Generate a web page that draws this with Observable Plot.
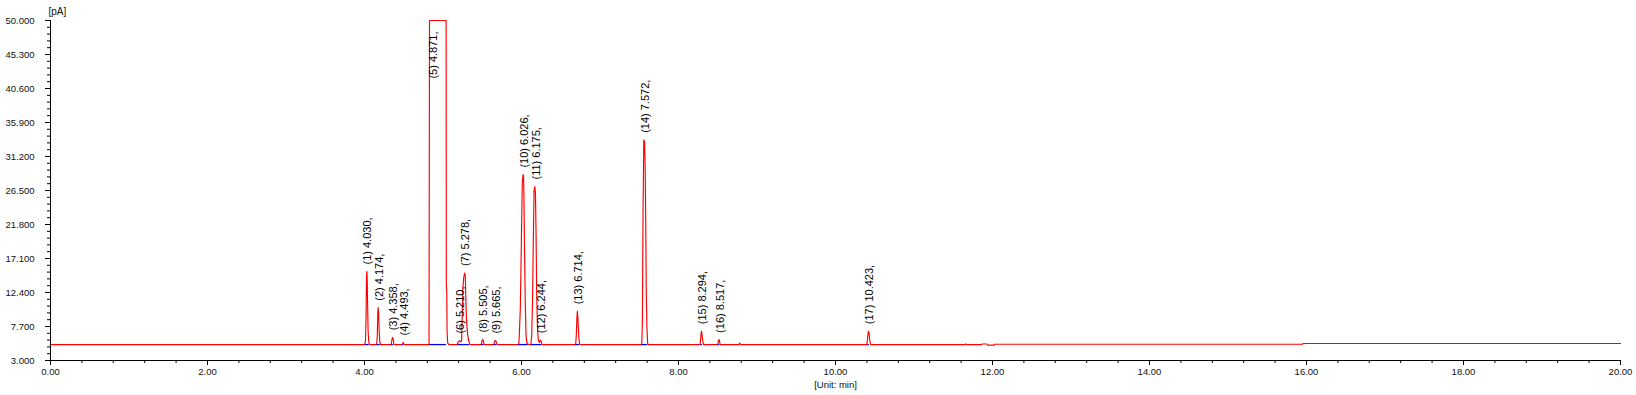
<!DOCTYPE html>
<html>
<head>
<meta charset="utf-8">
<script src="https://cdn.jsdelivr.net/npm/d3@7"></script>
<script src="https://cdn.jsdelivr.net/npm/@observablehq/plot@0.6"></script>
<style>
  html, body { margin: 0; padding: 0; background: #fff; overflow: hidden; }
  #chart svg { display: block; }
</style>
</head>
<body>
<div id="chart"></div>
<script>
// ---- Data ----
const traceTime = [
  0, 4.000,
  4.012, 4.020, 4.026, 4.030, 4.035, 4.040, 4.046, 4.055, 4.065,
  4.155, 4.163, 4.169, 4.174, 4.180, 4.186, 4.195, 4.205,
  4.340, 4.350, 4.358, 4.366, 4.376,
  4.482, 4.493, 4.504,
  4.822, 4.828, 5.040, 5.042, 5.048, 5.052, 5.060, 5.075,
  5.180, 5.195, 5.210, 5.225, 5.237,
  5.243, 5.252, 5.264, 5.272, 5.278, 5.284, 5.290, 5.298, 5.310, 5.325, 5.345,
  5.488, 5.498, 5.505, 5.513, 5.524,
  5.648, 5.658, 5.668, 5.678, 5.690,
  5.965, 5.972, 5.985, 5.998, 6.010, 6.020, 6.026, 6.032, 6.038, 6.048, 6.058, 6.070, 6.095,
  6.120, 6.130, 6.140, 6.150, 6.160, 6.170, 6.178, 6.186, 6.194, 6.204, 6.215, 6.228, 6.240, 6.250, 6.262,
  6.690, 6.698, 6.706, 6.712, 6.718, 6.724, 6.732, 6.742,
  7.532, 7.540, 7.548, 7.558, 7.568, 7.575, 7.582, 7.590, 7.598, 7.608,
  8.275, 8.285, 8.292, 8.300, 8.308, 8.318,
  8.500, 8.510, 8.520, 8.530,
  8.770, 8.780, 8.790,
  10.400, 10.412, 10.420, 10.428, 10.436, 10.448,
  11.650, 11.660, 11.670,
  11.860, 11.865, 11.930, 11.935, 12.020, 12.025,
  15.950, 15.955, 20.000
];
const traceSignal = [
  5.2, 5.2,
  5.6, 9.0, 14.8, 15.3, 14.0, 10.5, 7.0, 5.5, 5.2,
  5.2, 6.5, 9.6, 10.3, 9.5, 7.2, 5.6, 5.2,
  5.2, 5.9, 6.2, 5.9, 5.2,
  5.2, 5.5, 5.2,
  5.2, 50.0, 50.0, 13.6, 12.5, 7.0, 5.4, 5.2,
  5.2, 5.6, 5.75, 5.6, 5.7,
  8.5, 12.8, 14.5, 14.9, 15.1, 14.6, 12.0, 9.0, 7.0, 5.8, 5.2,
  5.2, 5.8, 5.9, 5.8, 5.2,
  5.2, 5.7, 5.75, 5.6, 5.2,
  5.2, 6.5, 10.2, 19.2, 27.5, 28.7, 28.5, 25.0, 18.7, 11.0, 6.5, 5.3, 5.2,
  5.2, 6.5, 11.0, 19.0, 26.5, 27.05, 26.0, 20.0, 12.0, 7.5, 5.8, 5.5, 5.8, 5.7, 5.2,
  5.2, 6.5, 9.0, 9.8, 9.0, 7.5, 6.0, 5.2,
  5.2, 8.5, 23.0, 33.5, 33.2, 30.0, 23.0, 12.0, 7.5, 5.2,
  5.2, 6.4, 7.05, 6.6, 5.8, 5.2,
  5.2, 5.8, 5.85, 5.2,
  5.2, 5.4, 5.2,
  5.2, 6.5, 7.05, 6.8, 5.8, 5.2,
  5.2, 5.3, 5.2,
  5.2, 5.28, 5.28, 5.12, 5.12, 5.25,
  5.25, 5.35, 5.35
];

// integration baselines (blue)
const blueStart = [4.010, 4.158, 4.345, 4.485, 4.828, 5.190, 5.490, 5.650, 5.965, 6.125, 6.692, 7.536, 8.285, 8.508, 10.412];
const blueEnd   = [4.060, 4.200, 4.370, 4.500, 5.045, 5.340, 5.522, 5.688, 6.085, 6.262, 6.738, 7.604, 8.305, 8.526, 10.432];
const blueLevel = [5.2, 5.2, 5.2, 5.2, 5.2, 5.2, 5.2, 5.2, 5.2, 5.2, 5.2, 5.2, 5.2, 5.2, 5.2];

// peak annotations
const peakNumber = [1, 2, 3, 4, 5, 6, 7, 8, 9, 10, 11, 12, 13, 14, 15, 16, 17];
const peakTime   = [4.030, 4.174, 4.358, 4.493, 4.871, 5.210, 5.278, 5.505, 5.665, 6.026, 6.175, 6.244, 6.714, 7.572, 8.294, 8.517, 10.423];
const peakLabelY = [15.3, 10.3, 6.2, 5.5, 41.0, 5.75, 15.1, 5.9, 5.75, 28.7, 27.05, 5.8, 9.8, 33.5, 7.05, 5.85, 7.05];

// axes
const yTicks = [3.0, 7.7, 12.4, 17.1, 21.8, 26.5, 31.2, 35.9, 40.6, 45.3, 50.0];
const yTickLabels = ["3.000", "7.700", "12.400", "17.100", "21.800", "26.500", "31.200", "35.900", "40.600", "45.300", "50.000"];
const xTicks = [0, 2, 4, 6, 8, 10, 12, 14, 16, 18, 20];
const xTickLabels = ["0.00", "2.00", "4.00", "6.00", "8.00", "10.00", "12.00", "14.00", "16.00", "18.00", "20.00"];
const yUnit = "[pA]";
const xUnit = "[Unit: min]";

// ---- Build tables ----
const trace = traceTime.map((t, i) => ({t, s: traceSignal[i]}));
const blue = blueStart.map((a, i) => ({x1: a, x2: blueEnd[i], y: blueLevel[i]}));
const peaks = peakNumber.map((n, i) => ({
  t: peakTime[i], y: peakLabelY[i], label: `(${n}) ${peakTime[i].toFixed(3)},`
}));
const yMinor = d3.range(0, 50).map(k => 3 + k * 0.94).filter(v => v <= 50.0001);
const xMinor = d3.range(0, 51).map(k => k * 0.4);

const chart = Plot.plot({
  width: 1636,
  height: 395,
  marginLeft: 50,
  marginRight: 16,
  marginTop: 20,
  marginBottom: 35,
  x: {domain: [0, 20]},
  y: {domain: [3, 50]},
  style: {fontFamily: "'Liberation Sans', Arial, sans-serif", fontSize: "9.5px", color: "#111", background: "#fff"},
  marks: [
    Plot.line(trace, {x: "t", y: "s", stroke: "#ff0000", strokeWidth: 1.15}),
    Plot.ruleY(blue, {x1: "x1", x2: "x2", y: "y", stroke: "#0000ff", strokeWidth: 1.3}),
    Plot.text(peaks, {x: "t", y: "y", text: "label", rotate: -90, textAnchor: "start",
      dy: -7, dx: 1, fontSize: 11, fill: "#000"}),
    Plot.ruleX([0], {stroke: "#000", strokeWidth: 1}),
    Plot.ruleY([3], {stroke: "#000", strokeWidth: 1}),
    Plot.axisY(yTicks, {tickSize: 5, tickPadding: 11, tickFormat: d => yTickLabels[yTicks.indexOf(d)], label: null, stroke: "#000"}),
    Plot.axisY(yMinor, {tickSize: 3, text: null, label: null, stroke: "#000"}),
    Plot.axisX(xTicks, {tickSize: 5, tickPadding: 3, tickFormat: d => xTickLabels[xTicks.indexOf(d)], label: null, stroke: "#000"}),
    Plot.axisX(xMinor, {tickSize: 3, text: null, label: null, stroke: "#000"}),
    Plot.text([yUnit], {frameAnchor: "top-left", text: d => d, dy: -13, dx: -2, fontSize: 10, fill: "#111"}),
    Plot.text([xUnit], {frameAnchor: "bottom", text: d => d, dy: 27, fontSize: 9.5, fill: "#111"})
  ]
});
document.getElementById("chart").appendChild(chart);
</script>
</body>
</html>
